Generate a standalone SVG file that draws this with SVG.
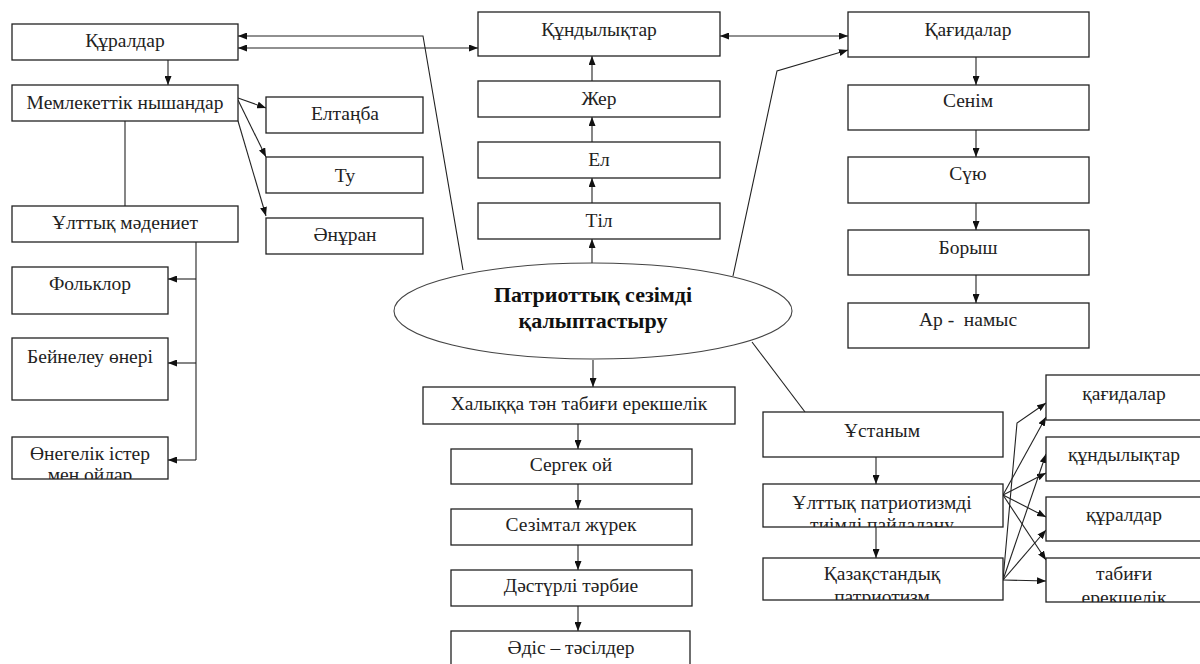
<svg xmlns="http://www.w3.org/2000/svg" width="1200" height="664" viewBox="0 0 1200 664">
<style>
.box{fill:#fff;stroke:#222;stroke-width:1.3}
.t{font-family:"Liberation Serif","Times New Roman",serif;font-size:19.5px;fill:#222;text-anchor:middle}
.tb{font-family:"Liberation Serif","Times New Roman",serif;font-size:22px;font-weight:bold;fill:#111;text-anchor:middle}
.c{fill:none;stroke:#222;stroke-width:1.1}
.a{marker-end:url(#ah)}
.d{marker-start:url(#ahs);marker-end:url(#ah)}
</style>
<defs>
<marker id="ah" markerUnits="userSpaceOnUse" markerWidth="9" markerHeight="7" refX="9" refY="3.5" orient="auto"><path d="M0,0 L9,3.5 L0,7 z" fill="#111"/></marker>
<marker id="ahs" markerUnits="userSpaceOnUse" markerWidth="9" markerHeight="7" refX="9" refY="3.5" orient="auto-start-reverse"><path d="M0,0 L9,3.5 L0,7 z" fill="#111"/></marker>
<clipPath id="cp1"><rect x="763" y="484" width="240" height="43"/></clipPath>
<clipPath id="cp2"><rect x="763" y="558" width="240" height="42"/></clipPath>
<clipPath id="cp3"><rect x="1046" y="558" width="160" height="44"/></clipPath>
<clipPath id="cp4"><rect x="12" y="437" width="156" height="42"/></clipPath>
</defs>
<rect width="1200" height="664" fill="#fff"/>

<g id="connectors">
<line class="c a" x1="168" y1="60" x2="168" y2="85"/>
<line class="c" x1="125" y1="121" x2="125" y2="206"/>
<line class="c a" x1="238" y1="98" x2="266" y2="108"/>
<line class="c a" x1="238" y1="100" x2="266" y2="157"/>
<line class="c a" x1="238" y1="121" x2="266" y2="216"/>
<polyline class="c" points="196,242 196,460"/>
<line class="c a" x1="196" y1="279" x2="168" y2="279"/>
<line class="c a" x1="196" y1="363" x2="168" y2="363"/>
<line class="c a" x1="196" y1="460" x2="168" y2="460"/>
<polyline class="c a" points="463,270 423,36 238,36"/>
<line class="c d" x1="238" y1="48" x2="478" y2="48"/>
<line class="c d" x1="720" y1="36" x2="848" y2="36"/>
<polyline class="c a" points="733,276 777,71 848,50"/>
<line class="c a" x1="592" y1="263" x2="592" y2="239"/>
<line class="c a" x1="592" y1="203" x2="592" y2="178"/>
<line class="c a" x1="592" y1="142" x2="592" y2="117"/>
<line class="c a" x1="592" y1="81" x2="592" y2="56"/>
<line class="c a" x1="976" y1="57" x2="976" y2="85"/>
<line class="c a" x1="976" y1="130" x2="976" y2="157"/>
<line class="c a" x1="976" y1="203" x2="976" y2="230"/>
<line class="c a" x1="976" y1="275" x2="976" y2="303"/>
<line class="c a" x1="593" y1="360" x2="593" y2="387"/>
<line class="c a" x1="578" y1="424" x2="578" y2="449"/>
<line class="c a" x1="578" y1="484" x2="578" y2="509"/>
<line class="c a" x1="578" y1="545" x2="578" y2="570"/>
<line class="c a" x1="578" y1="606" x2="578" y2="631"/>
<line class="c" x1="752" y1="342" x2="805" y2="412"/>
<line class="c a" x1="876" y1="457" x2="876" y2="484"/>
<line class="c a" x1="876" y1="527" x2="876" y2="558"/>
<line class="c a" x1="1003" y1="495" x2="1046" y2="417"/>
<line class="c a" x1="1003" y1="495" x2="1046" y2="473"/>
<line class="c a" x1="1003" y1="495" x2="1046" y2="517"/>
<line class="c a" x1="1003" y1="495" x2="1046" y2="560"/>
<polyline class="c a" points="1003,580 1017,423 1046,403"/>
<line class="c a" x1="1003" y1="580" x2="1046" y2="454"/>
<line class="c a" x1="1003" y1="580" x2="1046" y2="530"/>
<line class="c a" x1="1003" y1="580" x2="1046" y2="581"/>
</g>

<g id="n-quraldar"><rect class="box" x="12" y="24" width="226" height="36"/><text class="t" x="125" y="47">Құралдар</text></g>
<g id="n-memleket"><rect class="box" x="12" y="85" width="226" height="36"/><text class="t" x="125" y="109">Мемлекеттік нышандар</text></g>
<g id="n-eltanba"><rect class="box" x="266" y="97" width="157" height="36"/><text class="t" x="345" y="120">Елтаңба</text></g>
<g id="n-tu"><rect class="box" x="266" y="157" width="157" height="36"/><text class="t" x="345" y="182">Ту</text></g>
<g id="n-anuran"><rect class="box" x="266" y="218" width="157" height="36"/><text class="t" x="345" y="241">Әнұран</text></g>
<g id="n-ulttyq"><rect class="box" x="12" y="206" width="226" height="36"/><text class="t" x="125" y="229">Ұлттық мәдениет</text></g>
<g id="n-folklor"><rect class="box" x="12" y="267" width="156" height="47"/><text class="t" x="90" y="290">Фольклор</text></g>
<g id="n-beyneleu"><rect class="box" x="12" y="338" width="156" height="62"/><text class="t" x="90" y="363">Бейнелеу өнері</text></g>
<g id="n-onegelik"><rect class="box" x="12" y="437" width="156" height="42"/><g clip-path="url(#cp4)"><text class="t" x="90" y="460">Өнегелік істер</text><text class="t" x="90" y="481">мен ойлар</text></g></g>

<g id="n-qundylyqtar"><rect class="box" x="478" y="12" width="242" height="44"/><text class="t" x="599" y="36">Құндылықтар</text></g>
<g id="n-zher"><rect class="box" x="478" y="81" width="242" height="36"/><text class="t" x="599" y="105">Жер</text></g>
<g id="n-el"><rect class="box" x="478" y="142" width="242" height="36"/><text class="t" x="599" y="166">Ел</text></g>
<g id="n-til"><rect class="box" x="478" y="203" width="242" height="36"/><text class="t" x="599" y="227">Тіл</text></g>

<g id="n-qagidalar"><rect class="box" x="848" y="12" width="241" height="45"/><text class="t" x="968" y="36">Қағидалар</text></g>
<g id="n-senim"><rect class="box" x="848" y="85" width="241" height="45"/><text class="t" x="968" y="107">Сенім</text></g>
<g id="n-suyu"><rect class="box" x="848" y="157" width="241" height="46"/><text class="t" x="968" y="180">Сүю</text></g>
<g id="n-borysh"><rect class="box" x="848" y="230" width="241" height="45"/><text class="t" x="968" y="254">Борыш</text></g>
<g id="n-ar"><rect class="box" x="848" y="303" width="241" height="45"/><text class="t" x="968" y="326" xml:space="preserve">Ар -  намыс</text></g>

<g id="n-center"><ellipse cx="593" cy="311" rx="199" ry="48" fill="#fff" stroke="#444" stroke-width="1.1"/><text class="tb" x="593" y="302">Патриоттық сезімді</text><text class="tb" x="593" y="328">қалыптастыру</text></g>

<g id="n-halyq"><rect class="box" x="423" y="387" width="312" height="37"/><text class="t" x="579" y="410">Халыққа тән табиғи ерекшелік</text></g>
<g id="n-sergek"><rect class="box" x="451" y="449" width="241" height="35"/><text class="t" x="571" y="471">Сергек ой</text></g>
<g id="n-sezimtal"><rect class="box" x="451" y="509" width="241" height="36"/><text class="t" x="571" y="531">Сезімтал жүрек</text></g>
<g id="n-dasturli"><rect class="box" x="451" y="570" width="241" height="36"/><text class="t" x="571" y="592">Дәстүрлі тәрбие</text></g>
<g id="n-adis"><rect class="box" x="451" y="631" width="239" height="45"/><text class="t" x="571" y="654">Әдіс – тәсілдер</text></g>

<g id="n-ustanym"><rect class="box" x="763" y="412" width="240" height="45"/><text class="t" x="882" y="437">Ұстаным</text></g>
<g id="n-ulttyq-patr"><rect class="box" x="763" y="484" width="240" height="43"/><g clip-path="url(#cp1)"><text class="t" x="882" y="509">Ұлттық патриотизмді</text><text class="t" x="882" y="531">тиімді пайдалану</text></g></g>
<g id="n-qazaqstan"><rect class="box" x="763" y="558" width="240" height="42"/><g clip-path="url(#cp2)"><text class="t" x="882" y="580">Қазақстандық</text><text class="t" x="882" y="603">патриотизм</text></g></g>

<g id="n-r-qagidalar"><rect class="box" x="1046" y="375" width="160" height="45"/><text class="t" x="1124" y="400">қағидалар</text></g>
<g id="n-r-qundy"><rect class="box" x="1046" y="437" width="160" height="44"/><text class="t" x="1124" y="461">құндылықтар</text></g>
<g id="n-r-quraldar"><rect class="box" x="1046" y="497" width="160" height="44"/><text class="t" x="1124" y="521">құралдар</text></g>
<g id="n-r-tabigi"><rect class="box" x="1046" y="558" width="160" height="44"/><g clip-path="url(#cp3)"><text class="t" x="1124" y="580">табиғи</text><text class="t" x="1124" y="604">ерекшелік</text></g></g>
</svg>
